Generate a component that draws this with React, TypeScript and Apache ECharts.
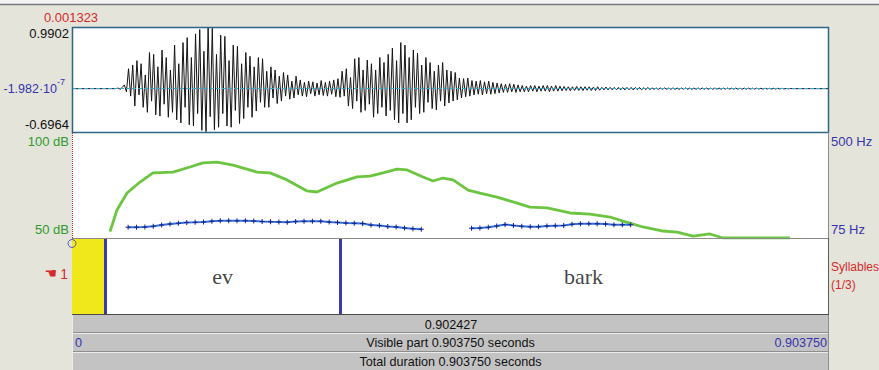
import React, { useEffect, useRef } from "react";
import * as echarts from "echarts";

// ---- data ----
const duration = 0.90375;
const cursorTime = 0.001323;
const selectionLength = 0.902427;

const waveMin = -0.6964;
const waveMax = 0.9902;
const waveMidLabel = "-1.982·10";
const waveMidExp = "-7";
const waveStart = 0.055;
const waveStep = 0.0025;
const waveform = [
  0.01, -0.01, 0.02, 0.06, -0.05,
  0.32, -0.12, 0.38,
  -0.28, 0.45, -0.1, 0.4, -0.3, 0.22,
  -0.38, 0.58, -0.2, 0.55, -0.42, 0.35, -0.44,
  0.62, -0.25, 0.5, -0.46, 0.3, -0.38, 0.7,
  -0.5, 0.4, -0.55, 0.74, -0.3, 0.82, -0.58,
  0.5, -0.6, 0.88, -0.4, 0.95,
  -0.67, 0.6, -0.69, 0.99, -0.45, 0.97, -0.66,
  0.55, -0.62, 0.86, -0.4, 0.84,
  -0.6, 0.45, -0.62, 0.7, -0.35, 0.68, -0.56,
  0.4, -0.48, 0.58, -0.3, 0.52, -0.46, 0.35,
  -0.36, 0.5, -0.22, 0.48, -0.3, 0.28, -0.3,
  0.35, -0.15, 0.3, -0.24, 0.2, -0.2, 0.26,
  -0.12, 0.22, -0.17, 0.12, -0.15, 0.2, -0.1,
  0.14, -0.12, 0.1, -0.13, 0.12, -0.08, 0.11, -0.12, 0.09, -0.1,
  0.13, -0.11, 0.1, -0.12, 0.12, -0.09, 0.14, -0.13, 0.16, -0.14,
  0.28, -0.12, 0.32, -0.28, 0.18,
  -0.32, 0.48, -0.2, 0.5, -0.38, 0.3, -0.35,
  0.46, -0.25, 0.4, -0.46, 0.3, -0.4, 0.5, -0.3, 0.42, -0.44, 0.55, -0.35,
  0.65, -0.5, 0.45, -0.55, 0.74, -0.4, 0.7, -0.55, 0.5, -0.5, 0.62,
  -0.3, 0.57, -0.4, 0.38, -0.38, 0.5,
  -0.22, 0.42, -0.32, 0.28, -0.34, 0.38, -0.2, 0.42, -0.28,
  0.3, -0.23, 0.28, -0.2, 0.26, -0.18,
  0.17, -0.15, 0.16, -0.13, 0.17, -0.12,
  0.13, -0.1, 0.12, -0.09, 0.13, -0.1, 0.11, -0.08, 0.12, -0.09, 0.1, -0.08, 0.09, -0.07,
  0.08, -0.06, 0.07, -0.06, 0.08, -0.05, 0.07, -0.06, 0.06, -0.05,
  0.05, -0.05, 0.04, -0.05, 0.05, -0.04, 0.05, -0.05, 0.04, -0.04,
  0.05, -0.04, 0.05, -0.05, 0.04, -0.04, 0.05, -0.04, 0.04,
  -0.035, 0.035, -0.03, 0.03, -0.035, 0.03, -0.03, 0.035, -0.03, 0.03,
  -0.03, 0.03, -0.025, 0.03, -0.03, 0.025, -0.03, 0.03, -0.025,
  0.02, -0.02, 0.025, -0.02, 0.02, -0.02, 0.02, -0.018, 0.02, -0.02, 0.018, -0.02,
  0.02, -0.018, 0.02, -0.02, 0.018, -0.015, 0.02, -0.018, 0.015, -0.015, 0.018, -0.015,
  0.012, -0.01, 0.01, -0.012, 0.011, -0.01, 0.012, -0.01, 0.01, -0.011,
  0.012, -0.01, 0.01, -0.012, 0.011, -0.01, 0.012, -0.01, 0.01, -0.011,
  0.01, -0.01, 0.011, -0.01, 0.01, -0.009, 0.01, -0.01, 0.009, -0.01,
  0.01, -0.009, 0.01, -0.01, 0.009, -0.008, 0.01, -0.009, 0.008, -0.009,
  0.009, -0.008, 0.008, -0.009, 0.008, -0.008, 0.009, -0.008, 0.008, -0.007,
  0.008, -0.007, 0.007, -0.008, 0.007, -0.006, 0.006, -0.007, 0.006, -0.006,
  0.006, -0.005, 0.005, -0.005, 0.004, -0.003, 0.002,
];

const dbMin = 50;
const dbMax = 100;
const hzMin = 75;
const hzMax = 500;
const dbLabels = ["100 dB", "50 dB"];
const hzLabels = ["500 Hz", "75 Hz"];

const intensityTimes = [
  0.0454, 0.0537, 0.0657, 0.0812, 0.0967, 0.1206, 0.1409, 0.1564, 0.1731, 0.1922,
  0.2209, 0.2364, 0.2567, 0.2806, 0.2925, 0.3164, 0.3403, 0.3558, 0.3713, 0.388,
  0.4, 0.4191, 0.431, 0.4429, 0.4549, 0.4728, 0.4871, 0.5074, 0.5265, 0.5468,
  0.5671, 0.5946, 0.6184, 0.6423, 0.6578, 0.6817, 0.7056, 0.7223, 0.7414, 0.7617,
  0.7772, 0.8572,
];
const intensityDb = [
  53.0, 63.2, 71.2, 76.4, 80.7, 81.1, 83.5, 85.4, 85.8, 84.4,
  81.1, 80.7, 77.4, 72.2, 71.7, 75.9, 78.8, 79.2, 80.7, 82.5,
  82.1, 78.8, 76.9, 78.3, 77.4, 72.6, 71.2, 69.3, 67.0, 64.6,
  64.2, 61.8, 61.3, 59.9, 58.0, 55.2, 53.3, 52.8, 50.9, 51.9,
  50.0, 50.0,
];

const pitchStep = 0.01;
const pitchStartA = 0.067;
const pitchA = [
  117.9, 117.9, 119.1, 121.9, 127.1, 131.1, 133.9, 137.1, 137.9, 139.1,
  142.0, 144.0, 144.4, 144.4, 144.4, 143.2, 141.1, 139.9, 139.1, 138.3,
  141.1, 142.4, 142.4, 142.0, 139.1, 137.1, 135.1, 133.9, 132.7, 127.1,
  125.1, 121.1, 119.1, 115.1, 112.3, 109.9,
];
const pitchStartB = 0.477;
const pitchB = [
  113.9, 115.1, 117.9, 123.1, 129.1, 125.1, 121.9, 120.3, 120.3, 123.1,
  124.3, 125.1, 129.9, 132.3, 132.3, 132.3, 131.1, 128.3, 128.3, 128.3,
];

const tierBoundaries = [0.0418, 0.3176];
const tierTexts = ["", "ev", "bark"];
const selectedInterval = 0;
const tierName = "Syllables";
const tierCount = "(1/3)";
const tierNumber = "1";

const fmt = (v: number) => v.toFixed(6);

// ---- layout ----
const W = 879;
const H = 370;
const L = 72;
const PW = 757;
const T0 = 27;
const T1 = 132;
const T2 = 238;
const T3 = 315;

const SANS = '"Liberation Sans", Arial, sans-serif';
const SERIF = '"Liberation Serif", "Times New Roman", serif';

function txt(text: string, x: number, y: number, color: string, align: string, size = 13, family = SANS, extra: any = {}) {
  return {
    type: "text",
    z: 100,
    silent: true,
    style: {
      text,
      x,
      y,
      fill: color,
      font: `${size}px ${family}`,
      align,
      verticalAlign: "middle",
      textAlign: align,
      textVerticalAlign: "middle",
      ...extra,
    },
  };
}
function ln(x1: number, y1: number, x2: number, y2: number, stroke: string, lineWidth = 1, extra: any = {}) {
  return { type: "line", z: 100, silent: true, shape: { x1, y1, x2, y2 }, style: { stroke, lineWidth, ...extra } };
}
function rc(x: number, y: number, w: number, h: number, fill: string, stroke?: string, z = 1) {
  return { type: "rect", z, silent: true, shape: { x, y, width: w, height: h }, style: { fill, stroke: stroke || "none", lineWidth: 1 } };
}

export default function App() {
  const ref = useRef<HTMLDivElement>(null);

  useEffect(() => {
    if (!ref.current) return;
    const chart = echarts.init(ref.current, undefined, { renderer: "svg", width: W, height: H });

    const waveData: number[][] = [[0, 0], [waveStart - waveStep, 0]];
    waveform.forEach((v, i) => waveData.push([waveStart + i * waveStep, v]));
    waveData.push([waveStart + waveform.length * waveStep, 0]);
    waveData.push([duration, 0]);

    const intensityData = intensityTimes.map((t, i) => [t, intensityDb[i]]);
    const pitchData: any[] = pitchA.map((v, i) => [pitchStartA + i * pitchStep, v]);
    pitchData.push([pitchStartA + pitchA.length * pitchStep, null]);
    pitchB.forEach((v, i) => pitchData.push([pitchStartB + i * pitchStep, v]));

    const edges = [0, ...tierBoundaries, duration];
    const tierData = tierTexts.map((_, i) => [(edges[i] + edges[i + 1]) / 2, 0.5]);

    const hideAxis = { show: false, axisLine: { show: false }, axisTick: { show: false }, axisLabel: { show: false }, splitLine: { show: false } };
    const xAx = (gi: number) => ({ type: "value", gridIndex: gi, min: 0, max: duration, ...hideAxis });

    const cursorLine = {
      silent: true,
      symbol: "none",
      label: { show: false },
      lineStyle: { color: "#c82020", type: "dotted", width: 1 },
      data: [{ xAxis: cursorTime }],
    };

    const blue = "#3434ae";
    const red = "#d42a2a";
    const green = "#2f9a2f";
    const barFont = 12.6;

    const graphic: any[] = [
      rc(0, 0, W, 4, "#f3f3f1", undefined, 0),
      ln(0, 4.5, W, 4.5, "#7a7a7a", 1.5),
      // panel borders
      { type: "rect", z: 100, silent: true, shape: { x: L + 0.5, y: T0 + 0.5, width: PW - 1, height: T1 - T0 }, style: { fill: "none", stroke: "#2d6584", lineWidth: 1.5 } },
      ln(L + PW - 0.5, T1, L + PW - 0.5, T2, "#8a8a8a", 1),
      ln(L, T2 + 0.5, L + PW, T2 + 0.5, "#8a8a8a", 1),
      ln(L + PW - 0.5, T2, L + PW - 0.5, T3, "#5a5a5a", 1),
      ln(L, T3 - 0.5, L + PW, T3 - 0.5, "#4a4a4a", 1.2),
      // bottom bars
      rc(L, T3, PW, 18, "#c3c3c3", undefined, 1),
      rc(L, T3 + 18, PW, 19, "#c3c3c3", undefined, 1),
      rc(L, T3 + 37, PW, 18, "#c3c3c3", undefined, 1),
      ln(L, T3 + 17.5, L + PW, T3 + 17.5, "#8e8e8e", 1),
      ln(L, T3 + 18.5, L + PW, T3 + 18.5, "#ececec", 1),
      ln(L, T3 + 36.5, L + PW, T3 + 36.5, "#8e8e8e", 1),
      ln(L, T3 + 37.5, L + PW, T3 + 37.5, "#ececec", 1),
      ln(L + 0.5, T3, L + 0.5, H, "#ececec", 1),
      ln(L + PW - 0.5, T3, L + PW - 0.5, H, "#8e8e8e", 1),
      txt(fmt(selectionLength), (L + 1 + L + PW) / 2, T3 + 9.5, "#111", "center", barFont),
      txt("0", L + 3, T3 + 28, blue, "left", barFont),
      txt(`Visible part ${fmt(duration)} seconds`, L + PW / 2, T3 + 28, "#111", "center", barFont),
      txt(fmt(duration), L + PW - 2, T3 + 28, blue, "right", barFont),
      txt(`Total duration ${fmt(duration)} seconds`, L + PW / 2, T3 + 46.5, "#111", "center", barFont),
      // left / right labels
      txt(cursorTime.toFixed(6), 71, 17, red, "center"),
      txt(waveMax.toFixed(4), 69, 33, "#111", "right"),
      txt(waveMin.toFixed(4), 69, 124, "#111", "right"),
      txt(waveMidLabel, 57, 89, blue, "right", 12.5),
      txt(waveMidExp, 57, 82, blue, "left", 9),
      txt(dbLabels[0], 69, 141, green, "right"),
      txt(dbLabels[1], 69, 229.5, green, "right"),
      txt(hzLabels[0], 831, 141, blue, "left"),
      txt(hzLabels[1], 831, 229.5, blue, "left"),
      txt("☚", 57, 273, red, "right", 14, '"DejaVu Sans", sans-serif'),
      txt(tierNumber, 68, 274, red, "right", 14),
      txt(tierName, 831, 267, red, "left", 12),
      txt(tierCount, 831, 285, red, "left", 12),
      { type: "circle", z: 101, silent: true, shape: { cx: 72, cy: 243.5, r: 4 }, style: { fill: "none", stroke: "#5a5ab8", lineWidth: 1 } },
    ];

    chart.setOption({
      animation: false,
      backgroundColor: "#e4e4da",
      grid: [
        { left: L, top: T0, width: PW, height: T1 - T0, show: true, backgroundColor: "#ffffff", borderWidth: 0 },
        { left: L, top: T1, width: PW, height: T2 - T1, show: true, backgroundColor: "#ffffff", borderWidth: 0 },
        { left: L, top: T2, width: PW, height: T3 - T2, show: true, backgroundColor: "#ffffff", borderWidth: 0 },
      ],
      xAxis: [xAx(0), xAx(1), xAx(2)],
      yAxis: [
        { type: "value", gridIndex: 0, min: waveMin, max: waveMax, ...hideAxis },
        { type: "value", gridIndex: 1, min: dbMin, max: dbMax, ...hideAxis },
        { type: "value", gridIndex: 1, min: hzMin, max: hzMax, ...hideAxis },
        { type: "value", gridIndex: 2, min: 0, max: 1, ...hideAxis },
      ],
      graphic,
      series: [
        {
          type: "line",
          xAxisIndex: 0,
          yAxisIndex: 0,
          data: waveData,
          showSymbol: false,
          symbol: "none",
          silent: true,
          lineStyle: { color: "#141414", width: 1 },
          markLine: {
            silent: true,
            symbol: "none",
            label: { show: false },
            data: [
              { yAxis: 0, lineStyle: { color: "#3aa6c8", type: "dashed", width: 1 } },
              { xAxis: cursorTime, lineStyle: { color: "#c82020", type: "dotted", width: 1 } },
            ],
          },
        },
        {
          type: "line",
          xAxisIndex: 1,
          yAxisIndex: 1,
          data: intensityData,
          showSymbol: false,
          symbol: "none",
          silent: true,
          lineStyle: { color: "#6cc540", width: 2.8 },
          markLine: cursorLine,
        },
        {
          type: "line",
          xAxisIndex: 1,
          yAxisIndex: 2,
          data: pitchData,
          connectNulls: false,
          showSymbol: true,
          symbol: "path://M4,0H6V4H10V6H6V10H4V6H0V4H4Z",
          symbolSize: 5,
          silent: true,
          itemStyle: { color: "#1c1c8e" },
          lineStyle: { color: "#2f72d8", width: 2 },
        },
        {
          type: "scatter",
          xAxisIndex: 2,
          yAxisIndex: 3,
          data: tierData,
          symbol: "circle",
          symbolSize: 1,
          silent: true,
          itemStyle: { color: "rgba(0,0,0,0)" },
          label: {
            show: true,
            position: "inside",
            formatter: (p: any) => tierTexts[p.dataIndex],
            color: "#111",
            fontSize: 22,
            fontFamily: SERIF,
          },
          markArea: {
            silent: true,
            itemStyle: { color: "#f1e81c", opacity: 1 },
            data: [[{ xAxis: edges[selectedInterval] }, { xAxis: edges[selectedInterval + 1] }]],
          },
          markLine: {
            silent: true,
            symbol: "none",
            label: { show: false },
            lineStyle: { color: "#3a3aaa", type: "solid", width: 3 },
            data: tierBoundaries.map((b) => ({ xAxis: b })),
          },
        },
      ],
    });

    return () => chart.dispose();
  }, []);

  return (
    <div
      ref={ref}
      style={{ position: "fixed", left: 0, top: 0, width: W, height: H, background: "#e4e4da" }}
    />
  );
}
